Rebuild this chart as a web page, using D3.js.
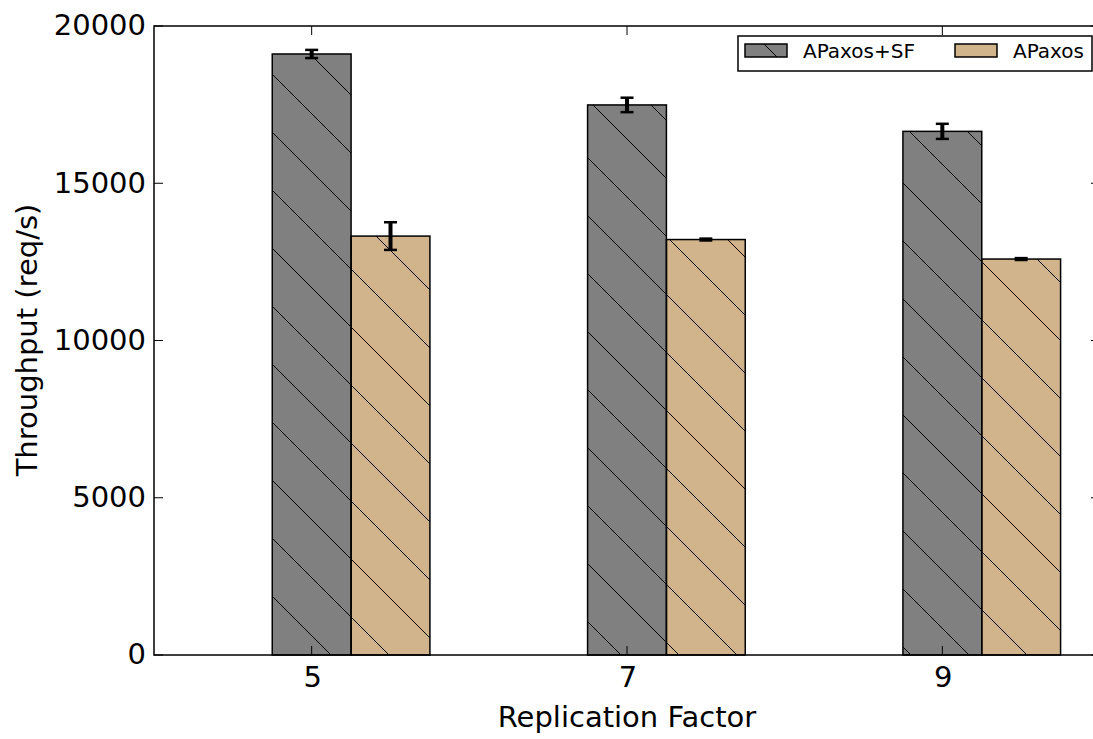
<!DOCTYPE html>
<html>
<head>
<meta charset="utf-8">
<script src="https://cdn.jsdelivr.net/npm/d3@7"></script>
<style>
  body { margin: 0; background: #fff; }
  text { font-family: "DejaVu Sans", sans-serif; fill: #000; }
</style>
</head>
<body>
<div class="chart"></div>
<script>
const factors = [5, 7, 9];
const seriesNames = ["APaxos+SF", "APaxos"];
const sfMeans = [19110, 17490, 16650];
const sfErr = [130, 230, 240];
const apMeans = [13320, 13210, 12590];
const apErr = [440, 30, 30];
const yTicks = [0, 5000, 10000, 15000, 20000];

const W = 1093, H = 739;
const margin = { top: 26, left: 154, right: 1100, bottom: 655 };
const colors = ["#808080", "#d2b48c"];

const svg = d3.select(".chart").append("svg")
    .attr("width", W)
    .attr("height", H);

// hatch pattern, aligned to the page like matplotlib does
const defs = svg.append("defs");
const hp = defs.append("pattern")
    .attr("id", "hatch")
    .attr("patternUnits", "userSpaceOnUse")
    .attr("width", 58).attr("height", 58);
hp.append("path")
    .attr("d", "M0,34L24,58M24,0L58,34M-10,24L0,34M58,34L68,44")
    .attr("stroke", "#000")
    .attr("stroke-width", 1);

const x = d3.scaleLinear().domain([4, 10]).range([margin.left, margin.right]);
const y = d3.scaleLinear().domain([0, 20000]).range([margin.bottom, margin.top]);

const rows = [];
factors.forEach((f, i) => {
    rows.push({ f: f, off: -0.25, v: sfMeans[i], e: sfErr[i], c: 0 });
    rows.push({ f: f, off: 0.25, v: apMeans[i], e: apErr[i], c: 1 });
});

// bars
const bars = svg.append("g");
bars.selectAll("rect.fill")
    .data(rows).enter().append("rect")
    .attr("x", d => x(d.f + d.off))
    .attr("width", x(4.5) - x(4))
    .attr("y", d => y(d.v))
    .attr("height", d => y(0) - y(d.v))
    .attr("fill", d => colors[d.c]);
bars.selectAll("rect.hatch")
    .data(rows).enter().append("rect")
    .attr("x", d => x(d.f + d.off))
    .attr("width", x(4.5) - x(4))
    .attr("y", d => y(d.v))
    .attr("height", d => y(0) - y(d.v))
    .attr("fill", "url(#hatch)")
    .attr("stroke", "#000")
    .attr("stroke-width", 1.5);

// error bars
const eb = svg.append("g").attr("stroke", "#000");
rows.forEach(d => {
    const cx = x(d.f + d.off + 0.25);
    eb.append("line")
        .attr("x1", cx).attr("x2", cx)
        .attr("y1", y(d.v - d.e)).attr("y2", y(d.v + d.e))
        .attr("stroke-width", 4);
    [d.v - d.e, d.v + d.e].forEach(v => {
        eb.append("line")
            .attr("x1", cx - 6.5).attr("x2", cx + 6.5)
            .attr("y1", y(v)).attr("y2", y(v))
            .attr("stroke-width", 2.5);
    });
});

// axes frame
svg.append("rect")
    .attr("x", margin.left).attr("y", margin.top)
    .attr("width", margin.right - margin.left)
    .attr("height", margin.bottom - margin.top)
    .attr("fill", "none")
    .attr("stroke", "#000")
    .attr("stroke-width", 1.5);

// ticks, inward on all sides
const tl = 9;
const ticks = svg.append("g").attr("stroke", "#000").attr("stroke-width", 1);
yTicks.forEach(t => {
    ticks.append("line").attr("x1", margin.left).attr("x2", margin.left + tl)
        .attr("y1", y(t)).attr("y2", y(t));
    ticks.append("line").attr("x1", margin.right - tl).attr("x2", margin.right)
        .attr("y1", y(t)).attr("y2", y(t));
});
factors.forEach(f => {
    ticks.append("line").attr("x1", x(f)).attr("x2", x(f))
        .attr("y1", margin.bottom).attr("y2", margin.bottom - tl);
    ticks.append("line").attr("x1", x(f)).attr("x2", x(f))
        .attr("y1", margin.top).attr("y2", margin.top + tl);
});

// tick labels
svg.append("g").selectAll("text")
    .data(yTicks).enter().append("text")
    .attr("x", margin.left - 8)
    .attr("y", d => y(d))
    .attr("dy", "0.32em")
    .attr("text-anchor", "end")
    .style("font-size", "29px")
    .text(d => d);

svg.append("g").selectAll("text")
    .data(factors).enter().append("text")
    .attr("x", d => x(d) + 1)
    .attr("y", 687)
    .attr("text-anchor", "middle")
    .style("font-size", "29px")
    .text(d => d);

// axis labels
svg.append("text")
    .attr("x", 627).attr("y", 727)
    .attr("text-anchor", "middle")
    .style("font-size", "29px")
    .text("Replication Factor");

svg.append("text")
    .attr("transform", "translate(36.5,340) rotate(-90)")
    .attr("text-anchor", "middle")
    .style("font-size", "29px")
    .text("Throughput (req/s)");

// legend
const lg = svg.append("g");
lg.append("rect")
    .attr("x", 738).attr("y", 36)
    .attr("width", 354).attr("height", 35)
    .attr("fill", "#fff")
    .attr("stroke", "#000")
    .attr("stroke-width", 1.5);
const legendX = [745, 955];
seriesNames.forEach((name, i) => {
    lg.append("rect")
        .attr("x", legendX[i]).attr("y", 44)
        .attr("width", 42).attr("height", 13)
        .attr("fill", colors[i]);
    lg.append("rect")
        .attr("x", legendX[i]).attr("y", 44)
        .attr("width", 42).attr("height", 13)
        .attr("fill", "url(#hatch)")
        .attr("stroke", "#000")
        .attr("stroke-width", 1.5);
    lg.append("text")
        .attr("x", legendX[i] + 58).attr("y", 58)
        .style("font-size", "20px")
        .text(name);
});
</script>
</body>
</html>
